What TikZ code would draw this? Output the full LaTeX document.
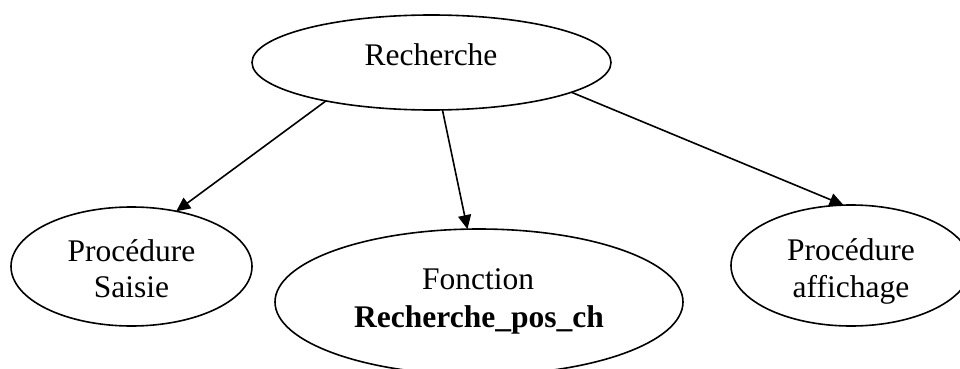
\documentclass[tikz,border=0pt]{standalone}
\usepackage{fontspec}
\setmainfont{Liberation Serif}
\usetikzlibrary{shapes.geometric,arrows.meta}
\begin{document}
\begin{tikzpicture}[x=1pt,y=-1pt,
  oval/.style={ellipse,draw=black,line width=1.6pt,inner sep=0pt,outer sep=0pt},
  label/.style={anchor=base,inner sep=0pt,font=\fontsize{31.5}{37}\selectfont},
  link/.style={line width=1.6pt,-{Triangle[length=14pt,width=13pt]}}]
  \useasboundingbox (0,0) rectangle (960,369);

  % ovals
  \node[oval,minimum width=359pt,minimum height=95pt] (rech) at (431.5,62.5) {};
  \node[oval,minimum width=241pt,minimum height=119pt] (saisie) at (131.5,266.5) {};
  \node[oval,minimum width=408pt,minimum height=146pt] (fonc) at (479,302) {};
  \node[oval,minimum width=240pt,minimum height=121pt] (aff) at (851,265.5) {};

  % texts
  \node[label] (rech-t) at (431,65) {Recherche};
  \node[label] (saisie-t1) at (131.5,261) {Procédure};
  \node[label] (saisie-t2) at (131.5,297) {Saisie};
  \node[label] (fonc-t1) at (478,289) {Fonction};
  \node[label] (fonc-t2) at (479,327) {\bfseries Recherche\_pos\_ch};
  \node[label] (aff-t1) at (851,260) {Procédure};
  \node[label] (aff-t2) at (851,297) {affichage};

  % calls
  \draw[link] (rech.200.35) -- (saisie.51.3);
  \draw[link] (rech.283.3) -- (fonc.99.3);
  \draw[link] (rech.348.5) -- (aff.97.7);
\end{tikzpicture}
\end{document}
